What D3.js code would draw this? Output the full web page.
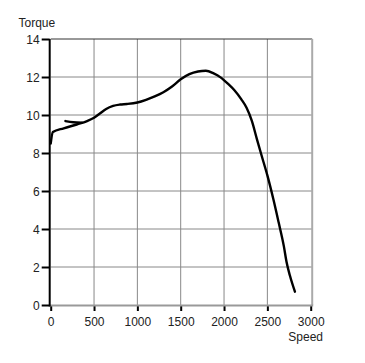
<!DOCTYPE html>
<html>
<head>
<meta charset="utf-8">
<script src="https://cdn.jsdelivr.net/npm/d3@7"></script>
<style>
  html, body { margin: 0; padding: 0; background: #fff; }
  svg text { font-family: "Liberation Sans", Arial, sans-serif; font-size: 12px; fill: #222; }
</style>
</head>
<body>
<div id="chart"></div>
<script>
// Drehmomentkurve (Hauptverlauf)
var speed  = [0, 25, 150, 300, 420, 500, 560, 640, 720, 800, 880, 1000, 1100, 1200, 1300, 1400, 1500, 1600, 1700, 1790, 1880, 1960, 2050, 2120, 2200, 2260, 2320, 2380, 2430, 2500, 2570, 2630, 2690, 2722, 2760, 2818];
var torque = [8.5, 9.1, 9.3, 9.5, 9.68, 9.85, 10.05, 10.32, 10.48, 10.55, 10.58, 10.66, 10.8, 10.98, 11.2, 11.5, 11.88, 12.15, 12.29, 12.33, 12.19, 11.98, 11.62, 11.3, 10.82, 10.38, 9.7, 8.72, 7.92, 6.82, 5.55, 4.35, 3.1, 2.25, 1.55, 0.7];
// kurzer Anfangsast
var hookSpeed  = [170, 260, 360];
var hookTorque = [9.68, 9.62, 9.6];

var xTicks = [0, 500, 1000, 1500, 2000, 2500, 3000];
var yTicks = [0, 2, 4, 6, 8, 10, 12, 14];

var width = 365, height = 363;
var plot = {left: 50.7, right: 310.7, top: 39, bottom: 305};

var svg = d3.select("#chart").append("svg")
    .attr("width", width)
    .attr("height", height);

var x = d3.scaleLinear().domain([0, 3000]).range([plot.left, plot.right]);
var y = d3.scaleLinear().domain([0, 14]).range([plot.bottom, plot.top]);

// Gitter
svg.append("g")
    .selectAll("line")
    .data(yTicks.slice(1, -1))
    .enter()
    .append("line")
    .attr("x1", plot.left).attr("x2", plot.right + 1.5)
    .attr("y1", d => y(d)).attr("y2", d => y(d))
    .style("stroke", "#888")
    .style("stroke-width", 1);

svg.append("g")
    .selectAll("line")
    .data(xTicks.slice(1, -1))
    .enter()
    .append("line")
    .attr("x1", d => x(d)).attr("x2", d => x(d))
    .attr("y1", plot.top).attr("y2", plot.bottom)
    .style("stroke", "#888")
    .style("stroke-width", 1);

// Rahmen oben / rechts
svg.append("line")
    .attr("x1", plot.left).attr("x2", plot.right + 1.5)
    .attr("y1", plot.top).attr("y2", plot.top)
    .style("stroke", "#333").style("stroke-width", 1);
svg.append("line")
    .attr("x1", plot.right + 1.5).attr("x2", plot.right + 1.5)
    .attr("y1", plot.top).attr("y2", plot.bottom)
    .style("stroke", "#aaa").style("stroke-width", 2);

// X-Achse
var xAxis = svg.append("g")
    .attr("transform", "translate(0," + plot.bottom + ")")
    .call(d3.axisBottom(x).tickValues(xTicks).tickFormat(d3.format("d")).tickSize(6).tickPadding(6));
xAxis.select(".domain").remove();
xAxis.selectAll(".tick line").style("stroke", "#000").style("stroke-width", 2);
xAxis.selectAll("text").attr("fill", null);
xAxis.attr("font-family", null).attr("font-size", null);
svg.append("line")
    .attr("x1", plot.left - 1).attr("x2", plot.right + 2.5)
    .attr("y1", plot.bottom + 0.5).attr("y2", plot.bottom + 0.5)
    .style("stroke", "#999").style("stroke-width", 2);

// Y-Achse
var yAxis = svg.append("g")
    .attr("transform", "translate(" + (plot.left - 1) + ",0)")
    .call(d3.axisLeft(y).tickValues(yTicks).tickSize(8).tickPadding(2));
yAxis.select(".domain").remove();
yAxis.selectAll(".tick line").style("stroke", "#000").style("stroke-width", 2);
yAxis.selectAll("text").attr("fill", null).attr("dy", "0.36em");
yAxis.attr("font-family", null).attr("font-size", null);
svg.append("line")
    .attr("x1", plot.left - 1).attr("x2", plot.left - 1)
    .attr("y1", plot.top).attr("y2", plot.bottom + 1.5)
    .style("stroke", "#000").style("stroke-width", 2);

// Achsentitel
svg.append("text").attr("x", 18.5).attr("y", 27).text("Torque");
svg.append("text").attr("x", 323).attr("y", 341).style("text-anchor", "end").text("Speed");

// Kurven
var line = d3.line()
    .x(d => x(d[0]))
    .y(d => y(d[1]))
    .curve(d3.curveMonotoneX);

svg.append("path")
    .datum(d3.zip(speed, torque))
    .attr("d", line)
    .style("fill", "none")
    .style("stroke", "#000")
    .style("stroke-width", 2.4)
    .style("stroke-linecap", "round");

svg.append("path")
    .datum(d3.zip(hookSpeed, hookTorque))
    .attr("d", line)
    .style("fill", "none")
    .style("stroke", "#000")
    .style("stroke-width", 2.4)
    .style("stroke-linecap", "round");
</script>
</body>
</html>
